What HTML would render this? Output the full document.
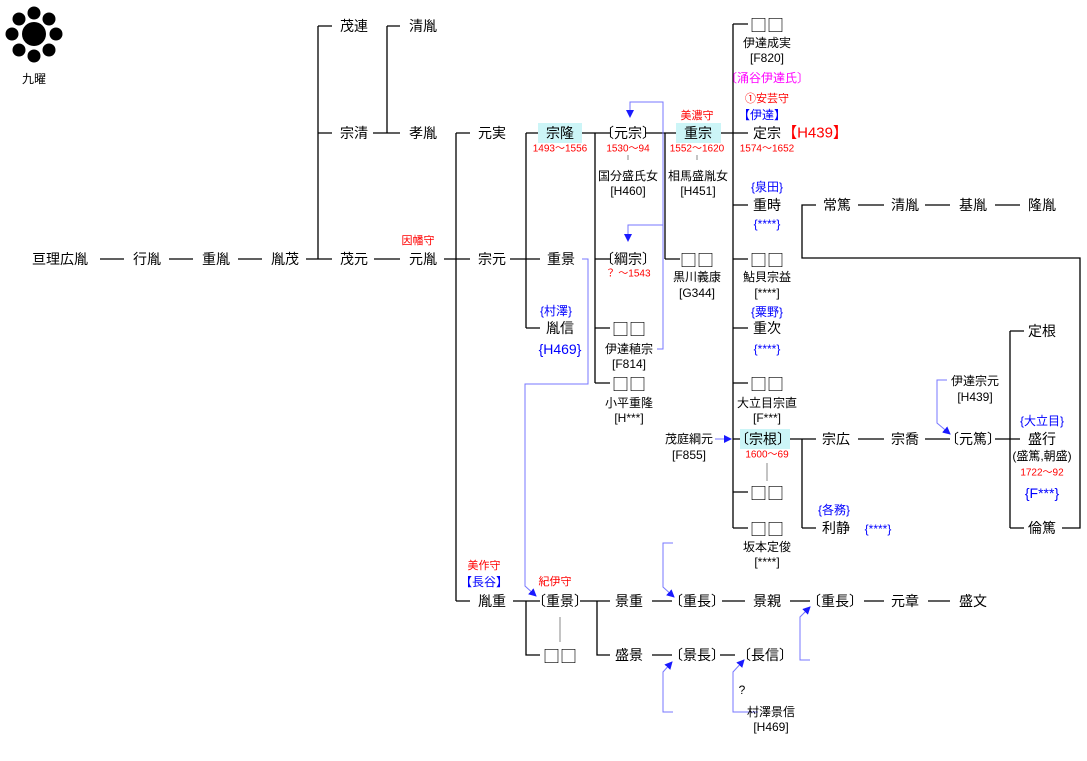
<!DOCTYPE html>
<html><head><meta charset="utf-8"><style>
html,body{margin:0;padding:0;background:#fff;}
svg{display:block;font-family:"Liberation Sans","Noto Sans CJK JP",sans-serif;}
.n{font-size:14px;fill:#000;text-anchor:middle;dominant-baseline:central;}
.q{font-family:"Noto Sans CJK JP",sans-serif;font-size:17px;fill:#000;text-anchor:middle;dominant-baseline:central;}
.s{font-size:12px;fill:#000;text-anchor:middle;dominant-baseline:central;}
.r{font-size:10px;fill:#f00;text-anchor:middle;dominant-baseline:central;}
.b{font-size:12px;fill:#00f;text-anchor:middle;dominant-baseline:central;}
.bb{font-size:14px;fill:#00f;text-anchor:middle;dominant-baseline:central;}
.l{stroke:#000;stroke-width:1.3;fill:none;}
.g{stroke:#888;stroke-width:1;fill:none;}
.u{stroke:#7777ff;stroke-width:1;fill:none;}
</style></head><body>
<svg width="1087" height="761" viewBox="0 0 1087 761" xmlns="http://www.w3.org/2000/svg">
<defs><marker id="a" markerWidth="8" markerHeight="8" refX="7" refY="4" orient="auto" markerUnits="userSpaceOnUse"><path d="M0,0 L8,4 L0,8 z" fill="#1a1aff"/></marker></defs>
<!-- crest -->
<g fill="#000"><circle cx="34" cy="34" r="12"/><circle cx="34" cy="13" r="6.5"/><circle cx="34" cy="56" r="6.5"/><circle cx="12" cy="34" r="6.5"/><circle cx="56" cy="34" r="6.5"/><circle cx="19" cy="19" r="6.5"/><circle cx="49" cy="19" r="6.5"/><circle cx="19" cy="50" r="6.5"/><circle cx="49" cy="50" r="6.5"/></g>
<text class="s" x="34" y="79">九曜</text>

<!-- black lines -->
<g class="l">
<path d="M100,259H124 M169,259H193 M238,259H262 M306,259H332 M318,26V259 M318,26H332 M318,133H332"/>
<path d="M373,133H400 M387,26V133 M387,26H400 M374,259H400"/>
<path d="M444,259H470 M456,133V601 M456,133H470 M456,601H470"/>
<path d="M510,259H540 M526,133V328 M526,133H540 M526,328H540"/>
<path d="M578,133H610 M595,133V383 M595,259H610 M595,328H610 M595,383H610"/>
<path d="M646,133H680 M665,133V259 M665,259H680"/>
<path d="M715,133H748 M733,24V528 M733,24H748 M733,205H748 M733,259H748 M733,328H748 M733,383H748 M733,439H748 M733,492H748 M733,528H748"/>
<path d="M787,439H816 M802,439V528 M802,528H816"/>
<path d="M858,439H884 M925,439H950 M995,439H1020 M1010,331V528 M1010,331H1024 M1010,528H1024"/>
<path d="M1062,528H1080V258H802V205H816 M858,205H884 M925,205H950 M995,205H1020"/>
<path d="M513,601H540 M526,601V655H540 M580,601H610 M597,601V655H610"/>
<path d="M652,601H672 M722,601H745 M790,601H810 M864,601H884 M928,601H950"/>
<path d="M652,655H672 M720,655H735"/>
</g>
<g class="g"><path d="M628,155V160 M697,155V160 M767,463V481 M560,617V642"/></g>

<!-- blue connectors -->
<g class="u">
<path d="M657,349H663V102H630V117" marker-end="url(#a)"/>
<path d="M663,225H628V241" marker-end="url(#a)"/>
<path d="M582,259H588V384H525V586L536,596" marker-end="url(#a)"/>
<path d="M673,543H663V587L674,597" marker-end="url(#a)"/>
<path d="M673,712H663V672L672,662" marker-end="url(#a)"/>
<path d="M758,712H733V672L744,660" marker-end="url(#a)"/>
<path d="M810,660H800V617L810,607" marker-end="url(#a)"/>
<path d="M947,380H937V423L950,434" marker-end="url(#a)"/>
<path d="M715,439H731" marker-end="url(#a)"/>
</g>

<!-- highlights -->
<g fill="#ccf5f7"><rect x="538" y="123" width="44" height="20"/><rect x="676" y="123" width="45" height="20"/><rect x="740" y="429" width="50" height="20"/></g>

<!-- names -->
<g class="n">
<text x="60" y="259">亘理広胤</text><text x="147" y="259">行胤</text><text x="216" y="259">重胤</text><text x="285" y="259">胤茂</text>
<text x="354" y="26">茂連</text><text x="423" y="26">清胤</text>
<text x="354" y="133">宗清</text><text x="423" y="133">孝胤</text>
<text x="354" y="259">茂元</text><text x="423" y="259">元胤</text>
<text x="492" y="133">元実</text><text x="560" y="133">宗隆</text><text x="628" y="133">〔元宗〕</text><text x="698" y="133">重宗</text><text x="767" y="133">定宗</text>
<text x="492" y="259">宗元</text><text x="561" y="259">重景</text><text x="628" y="259">〔綱宗〕</text>
<text x="767" y="205">重時</text>
<text x="560" y="328">胤信</text>
<text x="767" y="328">重次</text>
<text x="763" y="439">〔宗根〕</text>
<text x="836" y="439">宗広</text><text x="905" y="439">宗喬</text><text x="973" y="439">〔元篤〕</text>
<text x="1042" y="331">定根</text><text x="1042" y="439">盛行</text><text x="1042" y="528">倫篤</text>
<text x="836" y="528">利静</text>
<text x="837" y="205">常篤</text><text x="905" y="205">清胤</text><text x="973" y="205">基胤</text><text x="1042" y="205">隆胤</text>
<text x="492" y="601">胤重</text><text x="560" y="601">〔重景〕</text><text x="629" y="601">景重</text><text x="697" y="601">〔重長〕</text><text x="767" y="601">景親</text><text x="835" y="601">〔重長〕</text><text x="905" y="601">元章</text><text x="973" y="601">盛文</text>
<text x="629" y="655">盛景</text><text x="697" y="655">〔景長〕</text><text x="765" y="655">〔長信〕</text>
</g>
<g class="q">
<text x="767" y="24">□□</text><text x="697" y="259">□□</text><text x="767" y="259">□□</text>
<text x="629" y="328">□□</text><text x="629" y="383">□□</text><text x="767" y="383">□□</text>
<text x="767" y="492">□□</text><text x="767" y="528">□□</text><text x="560" y="655">□□</text>
</g>
<text x="815" y="133" style="font-size:15px;fill:#f00;text-anchor:middle;dominant-baseline:central">【H439】</text>

<!-- small black -->
<g class="s">
<text x="767" y="43">伊達成実</text><text x="767" y="58">[F820]</text>
<text x="628" y="176">国分盛氏女</text><text x="628" y="191">[H460]</text>
<text x="698" y="176">相馬盛胤女</text><text x="698" y="191">[H451]</text>
<text x="697" y="277">黒川義康</text><text x="697" y="293">[G344]</text>
<text x="767" y="277">鮎貝宗益</text><text x="767" y="293">[****]</text>
<text x="629" y="349">伊達稙宗</text><text x="629" y="364">[F814]</text>
<text x="629" y="403">小平重隆</text><text x="629" y="418">[H***]</text>
<text x="767" y="403">大立目宗直</text><text x="767" y="418">[F***]</text>
<text x="689" y="439">茂庭綱元</text><text x="689" y="455">[F855]</text>
<text x="767" y="547">坂本定俊</text><text x="767" y="562">[****]</text>
<text x="975" y="381">伊達宗元</text><text x="975" y="397">[H439]</text>
<text x="1042" y="456">(盛篤,朝盛)</text>
<text x="742" y="690">?</text>
<text x="771" y="712">村澤景信</text><text x="771" y="727">[H469]</text>
</g>
<!-- red small -->
<g class="r">
<text x="560" y="149">1493〜1556</text><text x="628" y="149">1530〜94</text><text x="697" y="149">1552〜1620</text><text x="767" y="149">1574〜1652</text>
<text x="628" y="274">？ 〜1543</text><text x="767" y="455">1600〜69</text><text x="1042" y="473">1722〜92</text>
<text x="697" y="116" style="font-size:11px">美濃守</text><text x="767" y="99" style="font-size:11px">①安芸守</text>
<text x="418" y="241" style="font-size:11px">因幡守</text><text x="484" y="566" style="font-size:11px">美作守</text><text x="555" y="582" style="font-size:11px">紀伊守</text>
</g>
<text x="767" y="78" style="font-size:12px;fill:#f0f;text-anchor:middle;dominant-baseline:central">〔涌谷伊達氏〕</text>
<!-- blue -->
<g class="b">
<text x="762" y="115">【伊達】</text><text x="484" y="582">【長谷】</text>
<text x="767" y="187">{泉田}</text><text x="767" y="224">{****}</text>
<text x="556" y="311">{村澤}</text><text x="767" y="312">{粟野}</text><text x="767" y="349">{****}</text>
<text x="834" y="510">{各務}</text><text x="878" y="529">{****}</text>
<text x="1042" y="421">{大立目}</text>
</g>
<g class="bb"><text x="560" y="349">{H469}</text><text x="1042" y="493">{F***}</text></g>
</svg>
</body></html>
